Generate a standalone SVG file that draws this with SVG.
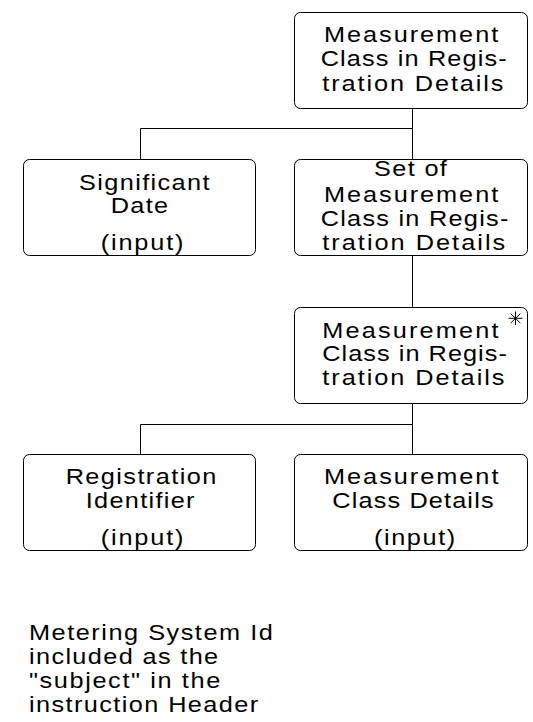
<svg xmlns="http://www.w3.org/2000/svg" width="533" height="722" viewBox="0 0 533 722">
<style>
.box{fill:#fff;stroke:#000;stroke-width:1}
text{font-family:"Liberation Sans",Arial,sans-serif;font-size:22px;fill:#000}
.c{fill:none;stroke:#000;stroke-width:1}
</style>
<rect width="533" height="722" fill="#fff"/>
<g id="connectors">
<path class="c" d="M412.5,108V128.5H140.5V159M412.5,128.5V159"/>
<path class="c" d="M412.5,256V307"/>
<path class="c" d="M412.5,404V424.5H140.5V454M412.5,424.5V454"/>
</g>
<g id="n1">
<rect class="box" x="294.5" y="12.5" width="233" height="96" rx="6"/>
<text transform="translate(324,42) scale(1.15,1)" textLength="151.5" lengthAdjust="spacing">Measurement</text>
<text transform="translate(320.7,66) scale(1.15,1)" textLength="161.8" lengthAdjust="spacing">Class in Regis-</text>
<text transform="translate(322.3,90.5) scale(1.15,1)" textLength="157.5" lengthAdjust="spacing">tration Details</text>
</g>
<g id="n2">
<rect class="box" x="23.5" y="159.5" width="232" height="96" rx="6"/>
<text transform="translate(79,190) scale(1.15,1)" textLength="113.5" lengthAdjust="spacing">Significant</text>
<text transform="translate(110.7,213) scale(1.15,1)" textLength="50" lengthAdjust="spacing">Date</text>
<text transform="translate(100.7,249.5) scale(1.15,1)" textLength="72" lengthAdjust="spacing">(input)</text>
</g>
<g id="n3">
<rect class="box" x="294.5" y="159.5" width="233" height="96" rx="6"/>
<text transform="translate(374,176) scale(1.15,1)" textLength="63.4" lengthAdjust="spacing">Set of</text>
<text transform="translate(324,201.5) scale(1.15,1)" textLength="151.5" lengthAdjust="spacing">Measurement</text>
<text transform="translate(320.7,225.5) scale(1.15,1)" textLength="163.2" lengthAdjust="spacing">Class in Regis-</text>
<text transform="translate(322.3,249.5) scale(1.15,1)" textLength="159" lengthAdjust="spacing">tration Details</text>
</g>
<g id="n4">
<rect class="box" x="294.5" y="307.5" width="233" height="96" rx="6"/>
<text transform="translate(322.3,337.5) scale(1.15,1)" textLength="153.2" lengthAdjust="spacing">Measurement</text>
<text transform="translate(322.3,361) scale(1.15,1)" textLength="160.5" lengthAdjust="spacing">Class in Regis-</text>
<text transform="translate(322.3,385) scale(1.15,1)" textLength="158.4" lengthAdjust="spacing">tration Details</text>
<path class="c" d="M515.5,311.5V325M508.5,318.3H522.5M510.7,313.7L520.3,323M520.3,313.7L510.7,323"/>
</g>
<g id="n5">
<rect class="box" x="23.5" y="454.5" width="232" height="96" rx="6"/>
<text transform="translate(65.7,484) scale(1.15,1)" textLength="130.9" lengthAdjust="spacing">Registration</text>
<text transform="translate(85.7,507.5) scale(1.15,1)" textLength="94.6" lengthAdjust="spacing">Identifier</text>
<text transform="translate(100.7,544.5) scale(1.15,1)" textLength="72" lengthAdjust="spacing">(input)</text>
</g>
<g id="n6">
<rect class="box" x="294.5" y="454.5" width="233" height="96" rx="6"/>
<text transform="translate(324,484) scale(1.15,1)" textLength="151.7" lengthAdjust="spacing">Measurement</text>
<text transform="translate(332.3,507.5) scale(1.15,1)" textLength="140.2" lengthAdjust="spacing">Class Details</text>
<text transform="translate(374,544.5) scale(1.15,1)" textLength="70.6" lengthAdjust="spacing">(input)</text>
</g>
<g id="note">
<text transform="translate(29,640) scale(1.15,1)" textLength="212" lengthAdjust="spacing">Metering System Id</text>
<text transform="translate(29,664) scale(1.15,1)" textLength="164.5" lengthAdjust="spacing">included as the</text>
<text transform="translate(29,688) scale(1.15,1)" textLength="166.3" lengthAdjust="spacing">"subject" in the</text>
<text transform="translate(29,712) scale(1.15,1)" textLength="199.3" lengthAdjust="spacing">instruction Header</text>
</g>
</svg>
